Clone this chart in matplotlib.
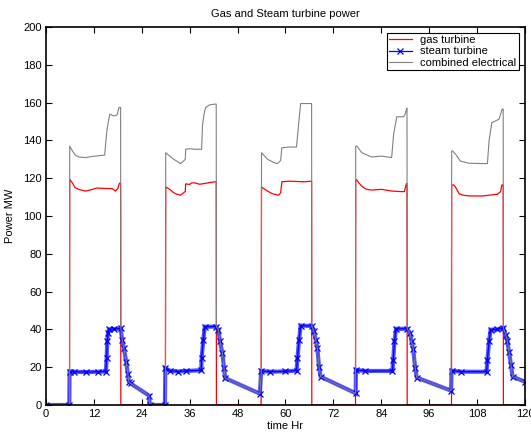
import matplotlib
matplotlib.use('Agg')
import matplotlib.pyplot as plt

# readings (time in hours, power in MW)
gas_t = [0, 5.9, 5.95, 6.6, 7.3, 8.3, 9.9, 11.5, 12.8, 14.5, 16.6, 17.4, 18.0, 18.4, 18.7, 18.75,
         29.9, 30.0, 31.0, 32.0, 32.7, 33.7, 34.5, 34.9, 35.0, 36.0, 36.5, 37.3, 38.5, 40.0, 41.0, 42.3, 42.65, 42.7,
         53.9, 54.0, 55.5, 56.5, 57.2, 58.3, 58.8, 59.1, 60.9, 62.5, 64.7, 66.3, 66.55, 66.6,
         77.55, 77.6, 77.9, 78.4, 79.1, 80.2, 81.6, 84.1, 86.6, 89.0, 89.8, 90.1, 90.3, 90.45, 90.5,
         101.6, 101.65, 102.2, 102.6, 103.5, 104.5, 106.0, 109.3, 113.1, 113.9, 114.2, 114.55, 114.6, 120]
gas_mw = [0, 0, 119.4, 117.5, 115.0, 114.0, 113.2, 114.0, 114.8, 114.6, 114.5, 113.2, 114.5, 117.3, 117.3, 0,
          0, 115.4, 114.1, 112.3, 111.6, 111.0, 112.3, 113.0, 117.0, 116.7, 117.5, 117.5, 116.8, 117.3, 117.7, 118.1, 118.1, 0,
          0, 115.3, 113.2, 112.0, 111.5, 111.0, 112.3, 118.1, 118.4, 118.3, 118.1, 118.4, 118.4, 0,
          0, 119.4, 119.0, 117.5, 115.8, 114.2, 113.7, 114.1, 113.2, 112.9, 112.9, 115.5, 117.1, 117.1, 0,
          0, 116.4, 116.4, 115.3, 111.8, 111.0, 110.6, 110.6, 111.5, 112.9, 116.4, 116.4, 0, 0]

steam_t = [0, 5.85, 5.9, 7.0, 10.0, 13.0, 15.0, 15.2, 15.35, 15.55, 15.76, 17.0, 18.7, 19.1, 19.5, 20.1, 20.5, 20.8, 21.2, 25.8, 26.0, 29.8,
           29.9, 31.0, 33.0, 35.0, 38.9, 39.0, 39.4, 39.8, 42.6, 43.2, 43.6, 44.2, 44.6, 44.9, 53.6,
           53.9, 56.0, 60.0, 62.8, 63.0, 63.4, 63.8, 66.6, 67.1, 67.6, 68.0, 68.4, 68.8, 77.6,
           77.65, 80.0, 86.8, 87.0, 87.3, 87.7, 90.5, 91.2, 91.6, 92.0, 92.5, 92.9, 101.5,
           101.6, 104.0, 110.4, 110.6, 111.0, 111.4, 113.0, 114.6, 115.2, 115.6, 116.0, 116.5, 116.9, 120]
steam_mw = [0, 0, 17.7, 17.6, 17.4, 17.6, 17.7, 24.8, 33.6, 38.0, 40.0, 40.2, 40.5, 34.4, 30.0, 22.9, 16.5, 12.1, 11.4, 5.0, 0, 0,
            19.4, 18.2, 17.7, 18.0, 18.4, 24.8, 34.4, 41.4, 41.5, 39.8, 33.6, 27.4, 19.5, 14.2, 6.0,
            18.0, 17.6, 17.8, 18.2, 24.8, 34.4, 42.0, 41.8, 38.9, 34.4, 30.0, 20.3, 15.0, 6.2,
            18.6, 18.0, 18.0, 23.9, 33.6, 40.3, 40.3, 38.0, 33.6, 29.7, 19.5, 14.5, 7.6,
            18.2, 17.6, 17.6, 23.9, 33.6, 39.8, 40.0, 40.7, 37.1, 33.6, 28.3, 21.2, 15.0, 12.3]

comb_t = [0, 5.9, 5.95, 6.3, 6.9, 7.5, 8.3, 9.9, 11.5, 12.8, 14.7, 15.2, 15.5, 16.0, 17.0, 17.8, 18.3, 18.7, 18.75,
          19.1, 19.5, 20.1, 20.5, 20.8, 21.2, 25.8, 26.0, 29.95,
          30.0, 31.0, 32.0, 32.7, 33.7, 34.5, 34.9, 35.0, 36.0, 37.3, 39.0, 39.2, 39.6, 40.0, 41.0, 42.3, 42.65, 42.7,
          43.2, 43.6, 44.2, 44.6, 44.9, 53.6, 53.95,
          54.0, 55.5, 57.2, 58.0, 58.8, 59.1, 60.9, 62.76, 63.3, 63.8, 66.55, 66.6,
          67.1, 67.6, 68.0, 68.4, 68.8, 77.55,
          77.6, 77.9, 79.1, 81.6, 84.1, 86.6, 87.1, 87.9, 89.6, 90.0, 90.4, 90.45, 90.5,
          91.2, 91.6, 92.0, 92.5, 92.9, 101.5,
          101.65, 101.9, 102.8, 103.8, 106.0, 110.6, 111.0, 111.7, 113.5, 114.3, 114.55, 114.6,
          115.2, 115.6, 116.0, 116.5, 116.9, 120]
comb_mw = [0, 0, 137.0, 135.5, 133.5, 132.0, 131.2, 130.9, 131.5, 131.8, 132.2, 144.1, 148.5, 153.9, 152.9, 153.5, 157.4, 157.4, 40.5,
           34.4, 30.0, 22.9, 16.5, 12.1, 11.4, 5.0, 0, 0,
           133.5, 131.7, 130.0, 129.1, 127.7, 129.1, 130.0, 135.3, 135.6, 135.3, 135.3, 147.7, 154.0, 157.4, 158.8, 159.2, 159.2, 41.5,
           39.8, 33.6, 27.4, 19.5, 14.2, 6.0, 18.0,
           133.5, 130.0, 128.2, 127.7, 129.4, 136.1, 136.5, 136.5, 148.6, 159.5, 159.5, 41.8,
           38.9, 34.4, 30.0, 20.3, 15.0, 6.2,
           137.0, 137.0, 133.5, 131.2, 131.7, 130.9, 143.2, 152.5, 152.5, 154.0, 157.1, 157.1, 40.3,
           38.0, 33.6, 29.7, 19.5, 14.5, 7.6,
           134.4, 134.4, 132.2, 129.1, 127.9, 127.7, 139.7, 149.4, 151.2, 156.6, 156.6, 40.7,
           37.1, 33.6, 28.3, 21.2, 15.0, 12.3]

x_ticks = list(range(0, 121, 12))
y_ticks = list(range(0, 201, 20))

plt.rcParams['font.family'] = ['Liberation Sans', 'DejaVu Sans']
plt.rcParams['font.size'] = 8

fig = plt.figure(figsize=(5.31, 4.32), dpi=100)
ax = fig.add_axes([0.0866, 0.0625, 0.902, 0.875])

ax.plot(gas_t, gas_mw, color='red', lw=0.9, label='gas turbine')
# the many x marks of the original sit so close they form a band
ax.plot(steam_t, steam_mw, color='#2a2aff', lw=3.0, alpha=0.8, solid_joinstyle='miter')
ax.plot(steam_t, steam_mw, color='blue', lw=0.9, marker='x', ms=4, mew=0.9, label='steam turbine')
ax.plot(comb_t, comb_mw, color='#808080', lw=0.8, label='combined electrical')

ax.set_xlim(0, 120)
ax.set_ylim(0, 200)
ax.set_xticks(x_ticks)
ax.set_yticks(y_ticks)
ax.tick_params(direction='in', length=4, width=0.8, top=True, right=True, labelsize=8, pad=3)
for sp in ax.spines.values():
    sp.set_linewidth(1.2)

ax.set_title('Gas and Steam turbine power', fontsize=8, pad=7)
ax.set_xlabel('time Hr', fontsize=8, labelpad=1)
ax.set_ylabel('Power MW', fontsize=8, labelpad=6)

leg = ax.legend(loc='upper right', fontsize=8, fancybox=False, framealpha=1, edgecolor='black',
                handlelength=2.0, borderaxespad=0.5, borderpad=0.25, labelspacing=0.1, handletextpad=0.8)
leg.get_frame().set_linewidth(0.8)

fig.savefig('out.png', dpi=100)
